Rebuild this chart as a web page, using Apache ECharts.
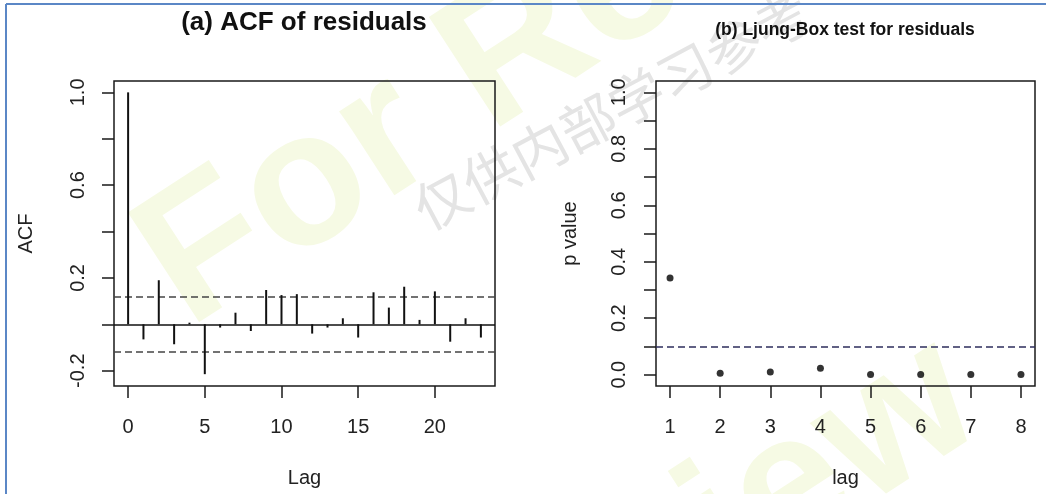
<!DOCTYPE html>
<html>
<head>
<meta charset="utf-8">
<script src="https://cdn.jsdelivr.net/npm/echarts@6/dist/echarts.min.js"></script>
<style>
  html, body { margin: 0; padding: 0; background: #fff; }
  #chart { width: 1046px; height: 494px; }
</style>
</head>
<body>
<div id="chart"></div>
<script>
// (a) ACF of residuals
const acfLags = [0, 1, 2, 3, 4, 5, 6, 7, 8, 9, 10, 11, 12, 13, 14, 15, 16, 17, 18, 19, 20, 21, 22, 23];
const acfValues = [1.0, -0.065, 0.19, -0.086, 0.007, -0.215, -0.014, 0.05, -0.029, 0.148, 0.126, 0.13,
  -0.04, -0.014, 0.026, -0.057, 0.138, 0.072, 0.162, 0.019, 0.142, -0.075, 0.026, -0.057];
const acfBound = 0.123;
const acfXTicks = [0, 5, 10, 15, 20];
const acfYTicks = [-0.2, 0, 0.2, 0.4, 0.6, 0.8, 1.0];
const acfYLabels = [-0.2, 0.2, 0.6, 1.0];

// (b) Ljung-Box test for residuals
const lbLags = [1, 2, 3, 4, 5, 6, 7, 8];
const lbPValues = [0.342, 0.005, 0.0095, 0.0225, 0.001, 0.001, 0.001, 0.001];
const lbLevel = 0.1;
const lbYTicks = [0, 0.1, 0.2, 0.3, 0.4, 0.5, 0.6, 0.7, 0.8, 0.9, 1.0];
const lbYLabels = [0, 0.2, 0.4, 0.6, 0.8, 1.0];

const FONT = '"Liberation Sans", Arial, sans-serif';
const INK = '#1a1a1a';

const chart = echarts.init(document.getElementById('chart'));

const tickStyle = (values) => ({
  show: true, inside: false, length: 12, customValues: values,
  lineStyle: { color: INK, width: 1.5 }
});
const labelStyle = (values, margin, rotate) => ({
  customValues: values, margin: margin, rotate: rotate || 0,
  color: '#222', fontSize: 20, fontFamily: FONT,
  formatter: v => (rotate ? Number(v).toFixed(1) : String(Math.round(v)))
});
const nameStyle = { fontSize: 20, color: '#222', fontFamily: FONT };
// R draws its axes on the box edge, not through zero
const hiddenLine = { show: false, onZero: false };

const option = {
  animation: false,
  backgroundColor: '#fff',
  grid: [
    { left: 114, top: 81, width: 381, height: 305, show: true, borderColor: INK, borderWidth: 1.5, backgroundColor: 'transparent' },
    { left: 656, top: 81, width: 379, height: 305, show: true, borderColor: INK, borderWidth: 1.5, backgroundColor: 'transparent' }
  ],
  xAxis: [
    {
      gridIndex: 0, type: 'value', min: -0.92, max: 23.92, position: 'bottom',
      axisLine: hiddenLine, splitLine: { show: false },
      axisTick: tickStyle(acfXTicks), axisLabel: labelStyle(acfXTicks, 31),
      name: 'Lag', nameLocation: 'middle', nameGap: 82, nameTextStyle: nameStyle
    },
    {
      gridIndex: 1, type: 'value', min: 0.72, max: 8.28, position: 'bottom',
      axisLine: hiddenLine, splitLine: { show: false },
      axisTick: tickStyle(lbLags), axisLabel: labelStyle(lbLags, 31),
      name: 'lag', nameLocation: 'middle', nameGap: 82, nameTextStyle: nameStyle
    }
  ],
  yAxis: [
    {
      gridIndex: 0, type: 'value', min: -0.266, max: 1.049, position: 'left',
      axisLine: hiddenLine, splitLine: { show: false },
      axisTick: tickStyle(acfYTicks), axisLabel: labelStyle(acfYLabels, 26, 90),
      name: 'ACF', nameLocation: 'middle', nameRotate: 90, nameGap: 78, nameTextStyle: nameStyle
    },
    {
      gridIndex: 1, type: 'value', min: -0.04, max: 1.04, position: 'left',
      axisLine: hiddenLine, splitLine: { show: false },
      axisTick: tickStyle(lbYTicks), axisLabel: labelStyle(lbYLabels, 27, 90),
      name: 'p value', nameLocation: 'middle', nameRotate: 90, nameGap: 76, nameTextStyle: nameStyle
    }
  ],
  series: [
    {
      type: 'bar', xAxisIndex: 0, yAxisIndex: 0, barWidth: 2, z: 5,
      itemStyle: { color: '#111' },
      data: acfLags.map((lag, i) => [lag, acfValues[i]]),
      markLine: {
        silent: true, symbol: 'none', label: { show: false },
        data: [
          { yAxis: 0, lineStyle: { type: 'solid', color: '#111', width: 1.5 } },
          { yAxis: acfBound, lineStyle: { type: [7, 4], color: '#444', width: 1.5 } },
          { yAxis: -acfBound, lineStyle: { type: [7, 4], color: '#444', width: 1.5 } }
        ]
      }
    },
    {
      type: 'scatter', xAxisIndex: 1, yAxisIndex: 1, symbolSize: 7, z: 5,
      itemStyle: { color: '#000' },
      data: lbLags.map((lag, i) => [lag, lbPValues[i]]),
      markLine: {
        silent: true, symbol: 'none', label: { show: false },
        data: [{ yAxis: lbLevel, lineStyle: { type: [7, 4], color: '#2e2e5c', width: 1.5 } }]
      }
    }
  ],
  graphic: [
    // faint watermarks
    { type: 'text', z: -10, x: 160, y: 285, rotation: 33 * Math.PI / 180,
      style: { text: 'For Review', fontSize: 190, fontWeight: 'bold', fontFamily: FONT,
        fill: '#f6fae4', textVerticalAlign: 'middle' } },
    { type: 'text', z: -10, x: 110, y: 935, rotation: 33 * Math.PI / 180,
      style: { text: 'For Review', fontSize: 190, fontWeight: 'bold', fontFamily: FONT,
        fill: '#f6fae4', textVerticalAlign: 'middle' } },
    { type: 'text', z: -9, x: 612, y: 110, rotation: 28 * Math.PI / 180,
      style: { text: '仅供内部学习参考', fontSize: 55, fontFamily: '"Noto Sans CJK SC"',
        fill: '#e4e4e4', textAlign: 'center', textVerticalAlign: 'middle' } },
    // titles
    { type: 'text', x: 304, y: 23,
      style: { text: '(a) ACF of residuals', fontSize: 26, fontWeight: 'bold', fontFamily: FONT,
        fill: '#111', textAlign: 'center', textVerticalAlign: 'middle' } },
    { type: 'text', x: 845, y: 30,
      style: { text: '(b) Ljung-Box test for residuals', fontSize: 17.5, fontWeight: 'bold', fontFamily: FONT,
        fill: '#111', textAlign: 'center', textVerticalAlign: 'middle' } },
    // page frame
    { type: 'line', shape: { x1: 6, y1: 4, x2: 1046, y2: 4 }, style: { stroke: '#5b87c6', lineWidth: 2 } },
    { type: 'line', shape: { x1: 6, y1: 4, x2: 6, y2: 494 }, style: { stroke: '#5b87c6', lineWidth: 2 } }
  ]
};

chart.setOption(option);
window.addEventListener('resize', () => chart.resize());
</script>
</body>
</html>
